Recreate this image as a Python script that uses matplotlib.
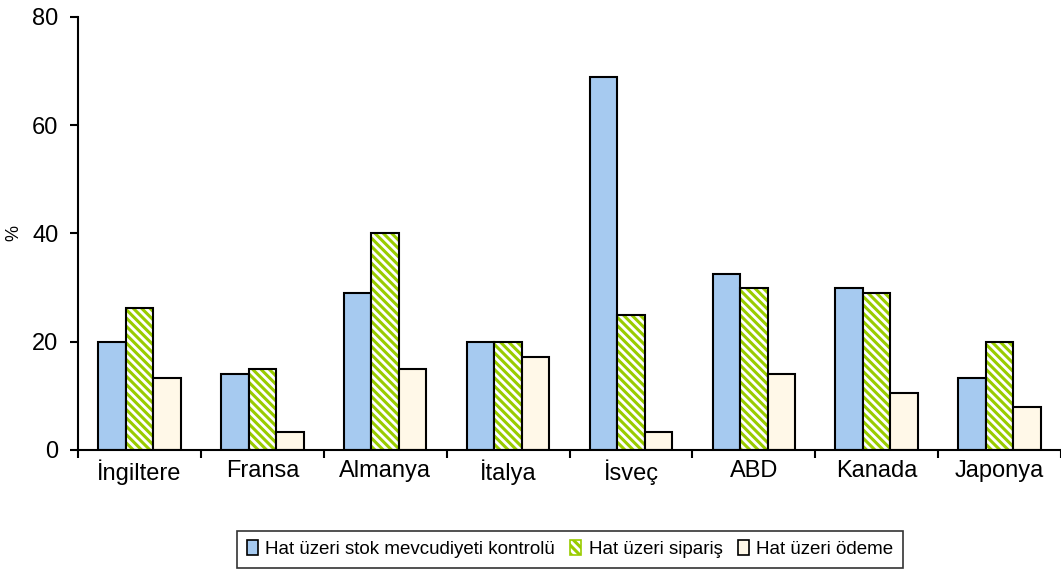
import numpy as np
import matplotlib
matplotlib.use("Agg")
import matplotlib.pyplot as plt
from matplotlib.patches import Patch

countries = ["İngiltere", "Fransa", "Almanya", "İtalya", "İsveç", "ABD", "Kanada", "Japonya"]
stock_check = [20, 14, 29, 20, 69, 32.5, 30, 13.3]
online_order = [26.2, 15, 40, 20, 25, 30, 29, 20]
online_payment = [13.3, 3.3, 15, 17.2, 3.3, 14, 10.5, 8]
series_labels = ["Hat üzeri stok mevcudiyeti kontrolü", "Hat üzeri sipariş", "Hat üzeri ödeme"]

plt.rcParams["font.family"] = ["Liberation Sans", "DejaVu Sans"]

BLUE = "#A6CAF0"
GREEN = "#99CC00"
CREAM = "#FFF8E8"

fig = plt.figure(figsize=(10.61, 5.78), dpi=100)
ax = fig.add_axes([78 / 1061, 128 / 578, 983 / 1061, 433 / 578])

x = np.arange(len(countries))
w = 0.224

ax.bar(x - w, stock_check, w, color=BLUE, edgecolor="black", linewidth=1.5)
# hatched bars: green stripes first, then a black outline on top
plt.rcParams["hatch.linewidth"] = 2.2
ax.bar(x, online_order, w, color="white", edgecolor=GREEN, hatch="\\\\\\\\", linewidth=0)
ax.bar(x, online_order, w, fill=False, edgecolor="black", linewidth=1.5)
ax.bar(x + w, online_payment, w, color=CREAM, edgecolor="black", linewidth=1.5)

ax.set_xlim(-0.5, len(countries) - 0.5)
ax.set_ylim(0, 80)
ax.set_yticks([0, 20, 40, 60, 80])
ax.set_xticks(x)
ax.set_xticklabels(countries)
ax.set_xticks(np.arange(len(countries) + 1) - 0.5, minor=True)
ax.tick_params(axis="x", which="major", length=0, labelsize=17, pad=7)
ax.tick_params(axis="x", which="minor", length=6, width=1.5, direction="out")
ax.tick_params(axis="y", length=6, width=1.5, direction="out", labelsize=17, pad=8)

for side in ("top", "right"):
    ax.spines[side].set_visible(False)
for side in ("left", "bottom"):
    ax.spines[side].set_linewidth(1.5)

fig.text(14 / 1061, 1 - 233 / 578, "%", fontsize=13, rotation=90, ha="center", va="center")

handles = [
    Patch(facecolor=BLUE, edgecolor="black", linewidth=1.2),
    Patch(facecolor="white", edgecolor=GREEN, hatch="\\\\\\\\", linewidth=1.2),
    Patch(facecolor=CREAM, edgecolor="black", linewidth=1.2),
]
leg = fig.legend(handles, series_labels, loc="center", bbox_to_anchor=(570 / 1061, 1 - 549 / 578),
                 ncol=3, fontsize=13.5, frameon=True, fancybox=False, edgecolor="black",
                 handlelength=0.6, handleheight=0.9, handletextpad=0.4, columnspacing=0.8,
                 borderpad=0.5)
leg.get_frame().set_linewidth(1.2)

fig.savefig("out.png", dpi=100)
